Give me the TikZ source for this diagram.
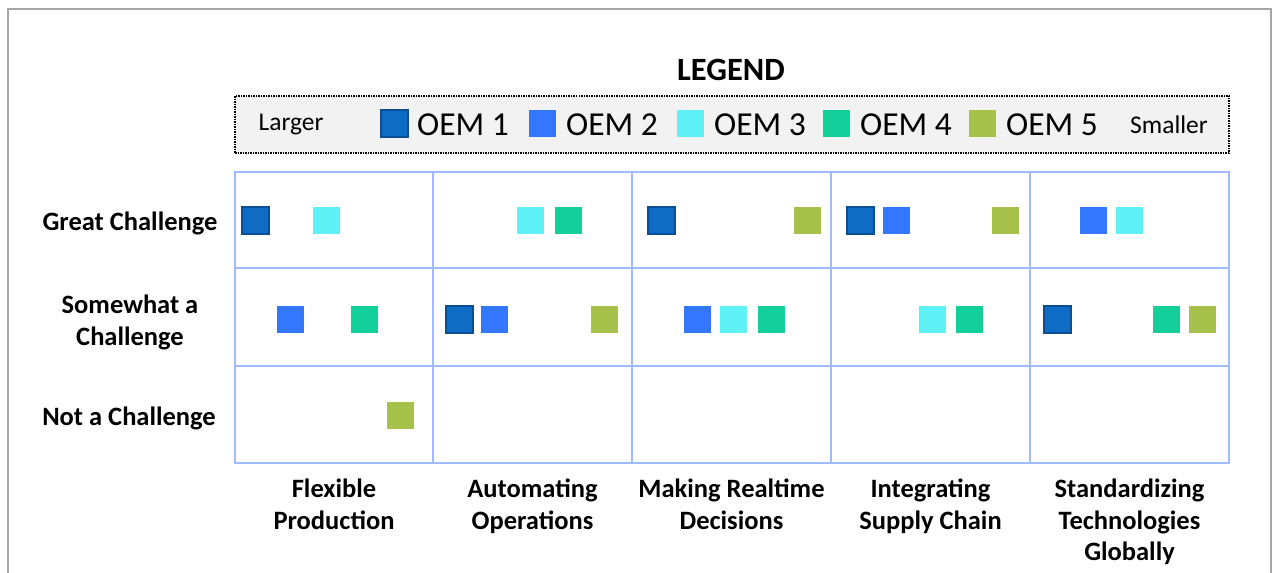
\documentclass[tikz,border=0pt]{standalone}
\usepackage{fontspec}
\setmainfont{Carlito}
\definecolor{frame}{HTML}{A6A6A6}
\definecolor{gridc}{HTML}{9EBCFF}
\definecolor{legfill}{HTML}{F2F2F2}
\definecolor{cA}{HTML}{0F6CC4}
\definecolor{cAd}{HTML}{0A4F94}
\definecolor{cB}{HTML}{3377FF}
\definecolor{cC}{HTML}{5EF1F5}
\definecolor{cD}{HTML}{13CF9A}
\definecolor{cE}{HTML}{A6C24A}
\tikzset{
  sq/.style={inner sep=0pt, minimum size=27pt, outer sep=0pt},
  oemA/.style={sq, fill=cA, draw=cAd, line width=2pt},
  oemB/.style={sq, fill=cB},
  oemC/.style={sq, fill=cC},
  oemD/.style={sq, fill=cD},
  oemE/.style={sq, fill=cE},
  rowlab/.style={font=\fontsize{26.5}{32}\selectfont\bfseries, align=center, inner sep=0pt},
  collab/.style={font=\fontsize{26.5}{31.5}\selectfont\bfseries, align=center, inner sep=0pt, anchor=north},
  legtxt/.style={font=\fontsize{33.5}{38}\selectfont, anchor=west, inner sep=0pt},
  sidetxt/.style={font=\fontsize{25.5}{30}\selectfont, inner sep=0pt},
  gridline/.style={draw=gridc, line width=2.5pt}
}
\begin{document}
\begin{tikzpicture}[x=1pt,y=-1pt]
\useasboundingbox (0,0) rectangle (1278,573);
% outer frame
\draw[frame, line width=2pt] (8,580) -- (8,9) -- (1271,9) -- (1271,580);
% legend
\node[font=\fontsize{32.5}{36}\selectfont\bfseries, inner sep=0pt] (legtitle) at (731,70) {LEGEND};
\node[draw=black, densely dotted, line width=1.5pt, fill=legfill, minimum width=994pt, minimum height=57pt, inner sep=0pt] (legbox) at (732,124.5) {};
\node[sidetxt] (larger) at (291,125) {Larger};
\node[sidetxt] (smaller) at (1169,125) {Smaller};
\node[oemA] (lA) at (394,123.5) {};
\node[legtxt] (tA) at (417,125) {OEM 1};
\node[oemB] (lB) at (542,123.5) {};
\node[legtxt] (tB) at (566,125) {OEM 2};
\node[oemC] (lC) at (690,123.5) {};
\node[legtxt] (tC) at (714,125) {OEM 3};
\node[oemD] (lD) at (836,123.5) {};
\node[legtxt] (tD) at (860,125) {OEM 4};
\node[oemE] (lE) at (982,123.5) {};
\node[legtxt] (tE) at (1006,125) {OEM 5};
% grid
\draw[gridline] (235,172) rectangle (1229,463);
\foreach \x in {433,632,831,1030} \draw[gridline] (\x,172) -- (\x,463);
\foreach \y in {268,366} \draw[gridline] (235,\y) -- (1229,\y);
% row labels
\node[rowlab] (r1) at (130,223) {Great Challenge};
\node[rowlab] (r2) at (130,322) {Somewhat a\\Challenge};
\node[rowlab] (r3) at (129,418) {Not a Challenge};
% column labels
\node[collab] (c1) at (334,479) {Flexible\\Production};
\node[collab] (c2) at (532.5,479) {Automating\\Operations};
\node[collab] (c3) at (731.5,479) {Making Realtime\\Decisions};
\node[collab] (c4) at (930.5,479) {Integrating\\Supply Chain};
\node[collab] (c5) at (1129.5,479) {Standardizing\\Technologies\\Globally};
% row 1: Great Challenge
\node[oemA] (g1a) at (255,220) {};
\node[oemC] (g1c) at (326.5,220) {};
\node[oemC] (g2c) at (530.5,220) {};
\node[oemD] (g2d) at (568,220) {};
\node[oemA] (g3a) at (661,220) {};
\node[oemE] (g3e) at (807,220) {};
\node[oemA] (g4a) at (860.5,220) {};
\node[oemB] (g4b) at (896,220) {};
\node[oemE] (g4e) at (1005,220) {};
\node[oemB] (g5b) at (1093,220) {};
\node[oemC] (g5c) at (1129,220) {};
% row 2: Somewhat a Challenge
\node[oemB] (s1b) at (290,319) {};
\node[oemD] (s1d) at (364,319) {};
\node[oemA] (s2a) at (459,319) {};
\node[oemB] (s2b) at (494,319) {};
\node[oemE] (s2e) at (604,319) {};
\node[oemB] (s3b) at (697,319) {};
\node[oemC] (s3c) at (733,319) {};
\node[oemD] (s3d) at (771,319) {};
\node[oemC] (s4c) at (932,319) {};
\node[oemD] (s4d) at (969,319) {};
\node[oemA] (s5a) at (1057,319) {};
\node[oemD] (s5d) at (1166,319) {};
\node[oemE] (s5e) at (1202,319) {};
% row 3: Not a Challenge
\node[oemE] (n1e) at (400,415) {};
\end{tikzpicture}
\end{document}
